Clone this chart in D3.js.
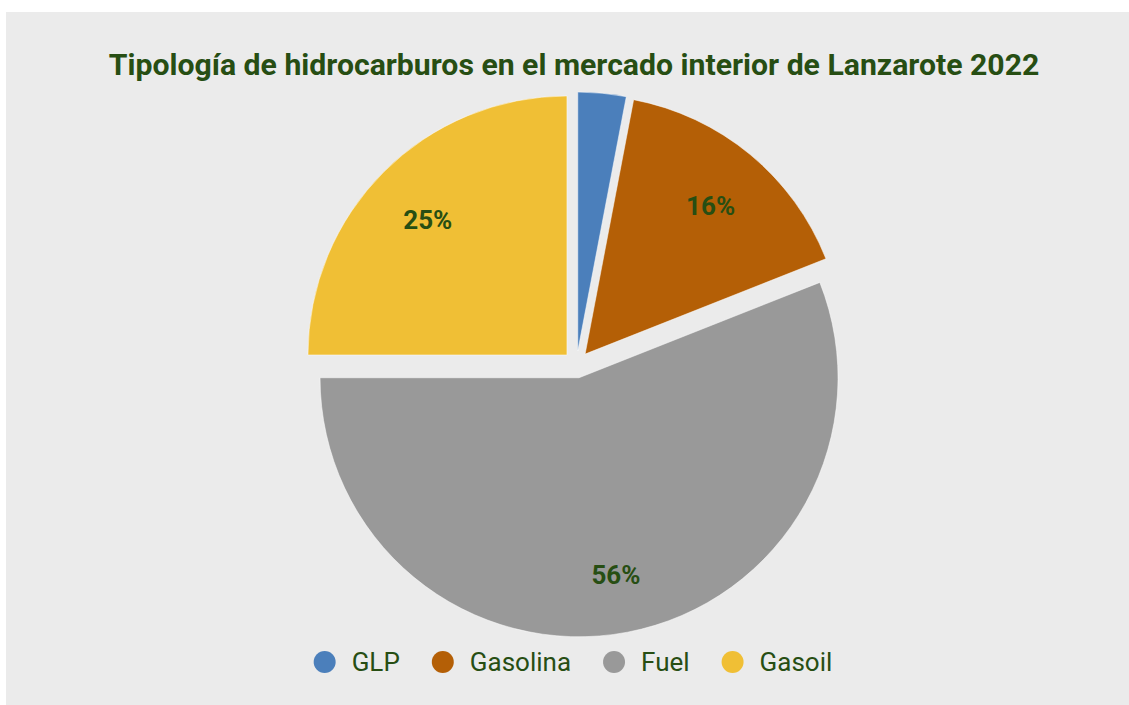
<!DOCTYPE html>
<html>
<head>
<meta charset="utf-8">
<script src="https://cdn.jsdelivr.net/npm/d3@7"></script>
<style>
  body { margin: 0; background: #fff; }
  svg { display: block; font-family: Roboto, "Open Sans", sans-serif; }
</style>
</head>
<body>
<svg id="chart" width="1129" height="705"></svg>
<script>
// tipologia de hidrocarburos, Lanzarote 2022 (% del total)
var categories = ['GLP', 'Gasolina', 'Fuel', 'Gasoil'];
var shares     = [3, 16, 56, 25];
var labels     = ['', '16%', '56%', '25%'];
var colors     = ['#4b7fbb', '#b45f06', '#999999', '#f0bf35'];

var svg   = d3.select("#chart");
var green = "#274e13";

// panel
svg.append("rect")
   .attr("x", 6).attr("y", 12)
   .attr("width", 1123).attr("height", 693)
   .attr("fill", "#ebebeb");

svg.append("text")
   .attr("x", 574).attr("y", 75)
   .attr("text-anchor", "middle")
   .attr("fill", green)
   .style("font-size", "30.2px")
   .style("font-weight", "bold")
   .text("Tipología de hidrocarburos en el mercado interior de Lanzarote 2022");

var cx = 576.5, cy = 364.5, R = 259, explode = 13.5;

var pie = d3.pie().sort(null).value(function(d) { return d; });
var arcs = pie(shares);
var arc = d3.arc().innerRadius(0).outerRadius(R);
var labelArc = d3.arc().innerRadius(R * 0.76).outerRadius(R * 0.76);

var g = svg.append("g").attr("transform", "translate(" + cx + "," + cy + ")");

var slice = g.selectAll("g.slice")
    .data(arcs)
    .enter().append("g")
    .attr("class", "slice")
    .attr("transform", function(d) {
        var a = (d.startAngle + d.endAngle) / 2;
        return "translate(" + (Math.sin(a) * explode) + "," + (-Math.cos(a) * explode) + ")";
    });

slice.append("path")
     .attr("d", arc)
     .attr("fill", function(d, i) { return colors[i]; })
     .attr("stroke", "#ffffff")
     .attr("stroke-opacity", 0.5)
     .attr("stroke-width", 1);

slice.append("text")
     .attr("transform", function(d) { return "translate(" + labelArc.centroid(d) + ")"; })
     .attr("text-anchor", "middle")
     .attr("dy", "0.5em")
     .attr("fill", green)
     .style("font-size", "26px")
     .style("font-weight", "bold")
     .text(function(d, i) { return labels[i]; });

// legend
var legend = svg.append("g");
var items = legend.selectAll("g")
    .data(categories)
    .enter().append("g");
items.append("circle")
     .attr("r", 11)
     .attr("cx", 11)
     .attr("cy", 0)
     .attr("fill", function(d, i) { return colors[i]; });
items.append("text")
     .attr("x", 38)
     .attr("dy", "0.35em")
     .attr("fill", green)
     .style("font-size", "26px")
     .text(function(d) { return d; });

var xpos = 0;
items.each(function() {
    var w = this.getBBox().width;
    d3.select(this).attr("transform", "translate(" + xpos + ",0)");
    xpos += w + 32;
});
var total = xpos - 32;
legend.attr("transform", "translate(" + (573 - total / 2) + ",662)");
</script>
</body>
</html>
